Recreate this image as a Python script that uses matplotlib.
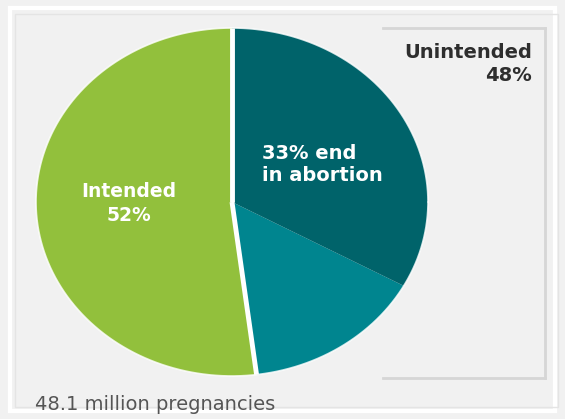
import matplotlib
matplotlib.use("Agg")
import matplotlib.pyplot as plt
from matplotlib.patches import Rectangle
from matplotlib.lines import Line2D
import numpy as np

# Data
categories = ["Intended", "Unintended, other outcomes", "Unintended, end in abortion"]
shares = [52, 15, 33]
colors = ["#92C03C", "#00858F", "#00636A"]
unintended_total = 48
total_label = "48.1 million pregnancies"

W, H = 565, 419
fig = plt.figure(figsize=(W / 100, H / 100), dpi=100, facecolor="#F1F1F1")

# frame decoration
fig.patches.append(Rectangle((10 / W, 8 / H), 1 - 20 / W, 1 - 16 / H, transform=fig.transFigure,
                             fill=False, edgecolor="white", linewidth=3, zorder=0))
fig.patches.append(Rectangle((15 / W, 12 / H), 1 - 22 / W, 1 - 26 / H, transform=fig.transFigure,
                             fill=False, edgecolor="#E4E4E4", linewidth=1, zorder=0))

# label bracket box
bx0, bx1, by0, by1 = 383, 545, 28, 378
kw = dict(transform=fig.transFigure, color="#D6D6D6", linewidth=2, zorder=1)
fig.lines.append(Line2D([bx0 / W, bx1 / W], [1 - by0 / H, 1 - by0 / H], **kw))
fig.lines.append(Line2D([bx1 / W, bx1 / W], [1 - by0 / H, 1 - by1 / H], **kw))
fig.lines.append(Line2D([bx0 / W, bx1 / W], [1 - by1 / H, 1 - by1 / H], **kw))

# pie axes (ellipse: rx 196, ry 174, center 232,202)
cx, cy, rx, ry = 232, 202, 196, 174
ax = fig.add_axes([(cx - rx) / W, 1 - (cy + ry) / H, 2 * rx / W, 2 * ry / H])
ax.set_facecolor("none")
wedges, _ = ax.pie(shares, colors=colors, startangle=90, counterclock=True,
                   wedgeprops=dict(edgecolor="none", linewidth=0, antialiased=True))
for w in wedges:
    w.set_zorder(2)
ax.set_aspect("auto")
ax.set_xlim(-1, 1)
ax.set_ylim(-1, 1)
ax.axis("off")

# soft white outline around the pie
t = np.linspace(0, 2 * np.pi, 400)
ax.plot(np.cos(t), np.sin(t), color="white", linewidth=1.2, alpha=0.8, zorder=3, clip_on=False)

# white separators around the intended wedge
for ang in (wedges[0].theta1, wedges[0].theta2):
    a = np.deg2rad(ang)
    ax.plot([0, np.cos(a)], [0, np.sin(a)], color="white", linewidth=3.5,
            solid_capstyle="butt", zorder=3, clip_on=False)

ax.text(-0.525, -0.01, f"{categories[0]}\n{shares[0]}%", color="white", fontsize=13.5,
        fontweight="bold", ha="center", va="center", linespacing=1.3, zorder=4)
ax.text(0.155, 0.215, f"{shares[2]}% end\nin abortion", color="white", fontsize=14,
        fontweight="bold", ha="left", va="center", linespacing=1.25, zorder=4)

fig.text(532 / W, 1 - 64 / H, f"Unintended\n{unintended_total}%", color="#2E2E2E",
         fontsize=14, fontweight="bold", ha="right", va="center", linespacing=1.3)

fig.text(35 / W, 1 - 404 / H, total_label, color="#555555", fontsize=14,
         ha="left", va="center")

fig.savefig("out.png", dpi=100, facecolor=fig.get_facecolor())
